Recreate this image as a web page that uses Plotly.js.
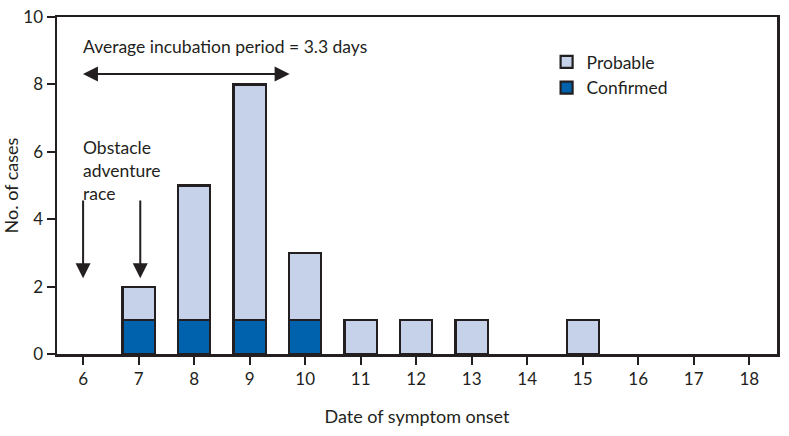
<!DOCTYPE html>
<html>
<head>
<meta charset="utf-8">
<script src="https://cdn.plot.ly/plotly-3.0.1.min.js"></script>
<style>
  html, body { margin: 0; padding: 0; background: #fff; }
  #chart { width: 789px; height: 436px; }
</style>
</head>
<body>
<div id="chart"></div>
<script>
const days = [6, 7, 8, 9, 10, 11, 12, 13, 14, 15, 16, 17, 18];
const confirmed = [0, 1, 1, 1, 1, 0, 0, 0, 0, 0, 0, 0, 0];
const probable = [0, 1, 4, 7, 2, 1, 1, 1, 0, 1, 0, 0, 0];
const yTicks = [0, 2, 4, 6, 8, 10];
const raceLabel = ['Obstacle', 'adventure', 'race'];

const ink = '#231f20';
const font = 'Lato, "Open Sans", sans-serif';

// empty days get no bar at all (otherwise the outline leaves a stub on the axis)
const hideZero = (v) => (v === 0 ? null : v);

const confirmedTrace = {
    x: days,
    y: confirmed.map(hideZero),
    type: 'bar',
    name: 'Confirmed',
    width: 0.58,
    marker: { color: '#0061ad', line: { color: ink, width: 2.2 } },
    hoverinfo: 'skip'
};

const probableTrace = {
    x: days,
    y: probable.map(hideZero),
    type: 'bar',
    name: 'Probable',
    width: 0.58,
    marker: { color: '#c5d2e9', line: { color: ink, width: 2.2 } },
    hoverinfo: 'skip'
};

const arrow = { arrowhead: 2, arrowsize: 1.5, arrowwidth: 2, arrowcolor: ink };

const layout = {
    width: 789,
    height: 436,
    margin: { l: 57, r: 12, t: 17, b: 82 },
    paper_bgcolor: '#fff',
    plot_bgcolor: '#fff',
    barmode: 'stack',
    font: { family: font, size: 17.5, color: ink },
    showlegend: true,
    legend: {
        x: 0.68, y: 0.92, xanchor: 'left', yanchor: 'top',
        traceorder: 'reversed',
        font: { family: font, size: 17.5, color: ink },
        itemwidth: 30,
        tracegroupgap: 0
    },
    xaxis: {
        range: [5.53, 18.5],
        tickvals: days,
        ticktext: days.map(String),
        ticks: 'outside',
        ticklen: 8,
        tickwidth: 2,
        tickcolor: ink,
        showline: true,
        mirror: true,
        linewidth: 2.5,
        linecolor: ink,
        showgrid: false,
        zeroline: false,
        tickfont: { size: 17 },
        title: { text: 'Date of symptom onset', font: { size: 18 }, standoff: 23 }
    },
    yaxis: {
        range: [0, 10],
        tickvals: yTicks,
        ticks: 'outside',
        ticklen: 8,
        tickwidth: 2,
        tickcolor: ink,
        showline: true,
        mirror: true,
        linewidth: 2.5,
        linecolor: ink,
        showgrid: false,
        zeroline: false,
        tickfont: { size: 17 },
        title: { text: 'No. of cases', font: { size: 18 }, standoff: 0 }
    },
    annotations: [
        {
            x: 5.97, y: 9.11, xref: 'x', yref: 'y',
            text: 'Average incubation period = 3.3 days',
            showarrow: false, xanchor: 'left', yanchor: 'middle',
            font: { size: 17.5 }
        },
        Object.assign({
            x: 9.72, y: 8.31, ax: 5.97, ay: 8.31,
            xref: 'x', yref: 'y', axref: 'x', ayref: 'y',
            text: '', showarrow: true, arrowside: 'end+start'
        }, arrow),
        {
            x: 5.97, y: 5.46, xref: 'x', yref: 'y',
            text: raceLabel.join('<br>'),
            showarrow: false, xanchor: 'left', yanchor: 'middle', align: 'left',
            font: { size: 17.5 }
        },
        Object.assign({
            x: 6, y: 2.25, ax: 6, ay: 4.6,
            xref: 'x', yref: 'y', axref: 'x', ayref: 'y',
            text: '', showarrow: true
        }, arrow),
        Object.assign({
            x: 7.03, y: 2.25, ax: 7.03, ay: 4.6,
            xref: 'x', yref: 'y', axref: 'x', ayref: 'y',
            text: '', showarrow: true
        }, arrow)
    ]
};

Plotly.newPlot('chart', [confirmedTrace, probableTrace], layout, { displayModeBar: false, staticPlot: true });
</script>
</body>
</html>
